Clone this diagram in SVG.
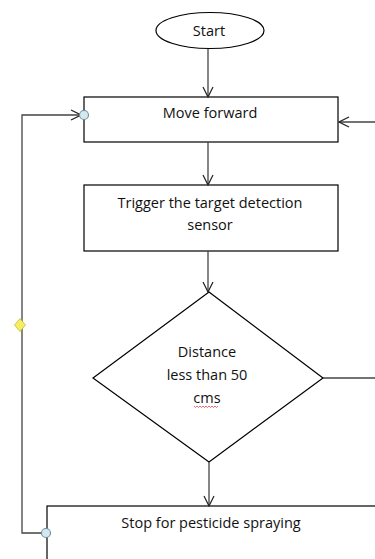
<svg xmlns="http://www.w3.org/2000/svg" width="375" height="559" viewBox="0 0 375 559">
<defs>
<style>
.box{fill:#fff;stroke:#000;stroke-width:1.2}
.ln{fill:none;stroke:#444;stroke-width:1.3}
.t{font-family:"Open Sans","Liberation Sans",sans-serif;font-size:14.5px;fill:#111;text-anchor:middle}
.dot{fill:#d4e8ef;stroke:#6f8f9c;stroke-width:1.1}
</style>
<marker id="ar" viewBox="0 0 12 12" refX="11" refY="6" markerWidth="12" markerHeight="12" markerUnits="userSpaceOnUse" orient="auto">
<path d="M1,1 L11,6 L1,11" fill="none" stroke="#222" stroke-width="1.2"/>
</marker>
</defs>
<rect width="375" height="559" fill="#fff"/>
<g id="start">
<ellipse class="box" cx="210" cy="30.5" rx="54" ry="18"/>
<text class="t" x="209" y="36">Start</text>
</g>
<g id="move">
<rect class="box" x="84" y="97" width="254" height="45"/>
<text class="t" x="210" y="118">Move forward</text>
</g>
<g id="trigger">
<rect class="box" x="84" y="185" width="254" height="66"/>
<text class="t" x="210" y="208">Trigger the target detection</text>
<text class="t" x="210" y="230">sensor</text>
</g>
<g id="decision">
<polygon class="box" points="209,292 323,378 209,462 93,378"/>
<text class="t" x="207" y="357">Distance</text>
<text class="t" x="207" y="380">less than 50</text>
<text class="t" x="207" y="403">cms</text>
<path d="M194,406 l1.5,1.5 l1.5,-1.5 l1.5,1.5 l1.5,-1.5 l1.5,1.5 l1.5,-1.5 l1.5,1.5 l1.5,-1.5 l1.5,1.5 l1.5,-1.5 l1.5,1.5 l1.5,-1.5 l1.5,1.5 l1.5,-1.5 l1.5,1.5 l1.5,-1.5" fill="none" stroke="#e03030" stroke-width="0.7"/>
</g>
<g id="stop">
<rect class="box" x="47" y="506" width="340" height="70"/>
<text class="t" x="211" y="528">Stop for pesticide spraying</text>
</g>
<g id="connectors">
<line class="ln" x1="208" y1="49" x2="208" y2="97" marker-end="url(#ar)"/>
<line class="ln" x1="208" y1="142" x2="208" y2="185" marker-end="url(#ar)"/>
<line class="ln" x1="208" y1="251" x2="208" y2="292" marker-end="url(#ar)"/>
<line class="ln" x1="209" y1="462" x2="209" y2="506" marker-end="url(#ar)"/>
<line class="ln" x1="375" y1="122" x2="339" y2="122" marker-end="url(#ar)"/>
<line class="ln" x1="323" y1="378" x2="375" y2="378"/>
<polyline class="ln" points="44,533 22,533 22,115 81,115" marker-end="url(#ar)"/>
<path d="M20,318.5 L25.5,325 L20,331.5 L14.5,325 Z" fill="#f5ee60" stroke="#c8b838" stroke-width="0.8"/>
<circle class="dot" cx="84" cy="115" r="4.5"/>
<circle class="dot" cx="46" cy="533" r="4.5"/>
</g>
</svg>
